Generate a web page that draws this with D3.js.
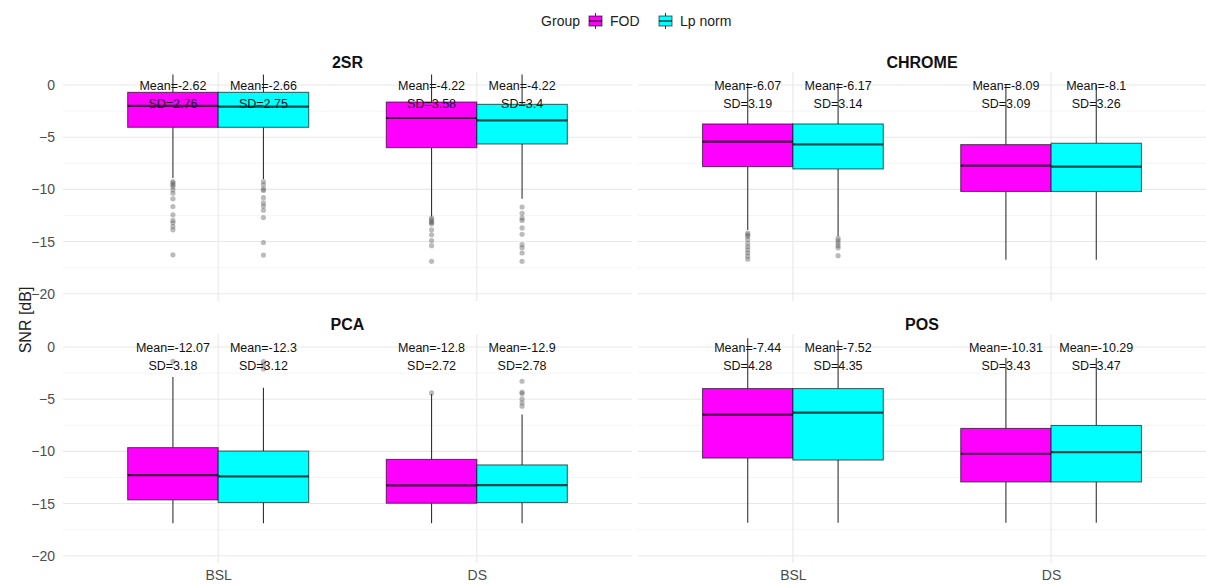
<!DOCTYPE html>
<html>
<head>
<meta charset="utf-8">
<script src="https://cdn.jsdelivr.net/npm/d3@7"></script>
<style>
  body { margin: 0; background: #fff; }
  text { font-family: "Liberation Sans", Arial, sans-serif; }
</style>
</head>
<body>
<div id="viz"></div>
<script>
// facets, categories and groups
var panels = ["2SR", "CHROME", "PCA", "POS"];
var conditions = ["BSL", "DS"];
var groups = ["FOD", "Lp norm"];
var groupColours = ["#ff00ff", "#00ffff"];
var yTicks = [0, -5, -10, -15, -20];
var yMinor = [-2.5, -7.5, -12.5, -17.5];

// box stats, order: BSL-FOD, BSL-Lp, DS-FOD, DS-Lp ; [lower whisker, q1, median, q3, upper whisker]
var box2SR    = [[-8.9, -4.05, -2.0, -0.7, 1.0], [-9.0, -4.05, -2.07, -0.7, 1.0], [-12.6, -6.0, -3.16, -1.63, 1.0], [-10.9, -5.65, -3.38, -1.85, 1.0]];
var boxCHROME = [[-13.9, -7.82, -5.42, -3.73, 0.2], [-14.5, -8.04, -5.68, -3.73, 0.2], [-16.75, -10.2, -7.72, -5.71, 0.1], [-16.75, -10.2, -7.82, -5.58, 0.0]];
var boxPCA    = [[-16.9, -14.65, -12.27, -9.64, -2.87], [-16.9, -14.9, -12.39, -9.97, -3.9], [-16.9, -14.97, -13.25, -10.77, -4.5], [-16.9, -14.9, -13.24, -11.3, -6.47]];
var boxPOS    = [[-16.85, -10.64, -6.47, -3.98, 0.85], [-16.85, -10.83, -6.28, -3.98, 0.63], [-16.85, -12.93, -10.23, -7.8, -1.05], [-16.85, -12.93, -10.07, -7.52, -1.05]];

// outliers, same order
var out2SR = [
  [-9.25, -9.41, -9.57, -9.73, -10.05, -10.37, -10.9, -11.64, -12.44, -12.98, -13.2, -13.56, -13.88, -16.27],
  [-9.25, -9.57, -9.98, -10.1, -10.8, -11.3, -11.6, -12.0, -12.7, -15.1, -16.3],
  [-12.76, -12.9, -13.08, -13.2, -13.3, -13.88, -14.35, -14.9, -15.4, -16.9],
  [-11.7, -12.3, -12.76, -12.98, -13.7, -14.3, -15.3, -15.6, -16.1, -16.9]
];
var outCHROME = [
  [-14.2, -14.35, -14.5, -14.8, -15.2, -15.5, -15.8, -16.1, -16.4, -16.7],
  [-14.7, -14.9, -15.15, -15.4, -15.6, -16.36],
  [],
  []
];
var outPCA = [[-1.37], [-1.4, -1.7, -2.1], [-4.4], [-3.28, -4.33, -4.46, -4.97, -5.35, -5.67]];
var outPOS = [[], [], [], []];

// annotation labels
var mean2SR = ["-2.62", "-2.66", "-4.22", "-4.22"],      sd2SR = ["2.76", "2.75", "3.58", "3.4"];
var meanCHROME = ["-6.07", "-6.17", "-8.09", "-8.1"],    sdCHROME = ["3.19", "3.14", "3.09", "3.26"];
var meanPCA = ["-12.07", "-12.3", "-12.8", "-12.9"],     sdPCA = ["3.18", "3.12", "2.72", "2.78"];
var meanPOS = ["-7.44", "-7.52", "-10.31", "-10.29"],    sdPOS = ["4.28", "4.35", "3.43", "3.47"];

var boxes = [box2SR, boxCHROME, boxPCA, boxPOS];
var outliers = [out2SR, outCHROME, outPCA, outPOS];
var means = [mean2SR, meanCHROME, meanPCA, meanPOS];
var sds = [sd2SR, sdCHROME, sdPCA, sdPOS];

var w = 1206, h = 585;
var svg = d3.select("#viz").append("svg").attr("width", w).attr("height", h);

var cols = [[63, 632], [638, 1206]];
var rows = [[72, 301], [334, 563]];
var yDomain = [-20.7, 1.25];

// legend
var legend = svg.append("g").attr("transform", "translate(0,21)");
legend.append("text").attr("x", 580).attr("y", 0).attr("dy", "0.35em")
  .attr("text-anchor", "end").style("font-size", "14px").style("fill", "#222").text("Group");
var legX = [588, 658];
groups.forEach(function(g, i){
  var k = legend.append("g").attr("transform", "translate(" + legX[i] + ",0)");
  k.append("line").attr("x1", 7.5).attr("x2", 7.5).attr("y1", -8).attr("y2", 8)
    .style("stroke", "#333").style("stroke-width", 1);
  k.append("rect").attr("x", 1).attr("y", -5).attr("width", 13).attr("height", 10)
    .style("fill", groupColours[i]).style("stroke", "#000").style("stroke-opacity", 0.6);
  k.append("line").attr("x1", 1).attr("x2", 14).attr("y1", 0).attr("y2", 0)
    .style("stroke", "#000").style("stroke-opacity", 0.7).style("stroke-width", 1.5);
  k.append("text").attr("x", 22).attr("y", 0).attr("dy", "0.35em")
    .style("font-size", "14px").style("fill", "#222").text(g);
});

// y axis title
svg.append("text").attr("transform", "translate(25,320) rotate(-90)")
  .attr("text-anchor", "middle").attr("dy", "0.35em")
  .style("font-size", "16px").style("fill", "#222").text("SNR [dB]");

panels.forEach(function(name, p){
  var col = cols[p % 2], row = rows[Math.floor(p / 2)];
  var x = d3.scalePoint().domain(conditions).range(col).padding(0.6);
  var y = d3.scaleLinear().domain(yDomain).range([row[1], row[0]]);
  var step = x.step();
  var boxW = step * 0.35;
  var g = svg.append("g").attr("class", "panel");

  // grid
  g.selectAll("line.minor").data(yMinor).enter().append("line")
    .attr("x1", col[0]).attr("x2", col[1])
    .attr("y1", function(d){ return y(d); }).attr("y2", function(d){ return y(d); })
    .style("stroke", "#f2f2f2").style("stroke-width", 0.8);
  g.selectAll("line.major").data(yTicks).enter().append("line")
    .attr("x1", col[0]).attr("x2", col[1])
    .attr("y1", function(d){ return y(d); }).attr("y2", function(d){ return y(d); })
    .style("stroke", "#e8e8e8").style("stroke-width", 1.1);
  g.selectAll("line.vgrid").data(conditions).enter().append("line")
    .attr("x1", function(d){ return x(d); }).attr("x2", function(d){ return x(d); })
    .attr("y1", row[0]).attr("y2", row[1])
    .style("stroke", "#e8e8e8").style("stroke-width", 1.1);

  // y tick labels on left column
  if (p % 2 === 0) {
    var ax = g.append("g").attr("transform", "translate(" + col[0] + ",0)")
      .call(d3.axisLeft(y).tickValues(yTicks).tickSize(0).tickPadding(8));
    ax.select(".domain").remove();
    ax.selectAll("text").style("font-size", "14px").style("fill", "#4d4d4d")
      .style("font-family", "Liberation Sans, Arial, sans-serif");
  }
  // x tick labels on bottom row
  if (p >= 2) {
    var axb = g.append("g").attr("transform", "translate(0," + row[1] + ")")
      .call(d3.axisBottom(x).tickSize(0).tickPadding(7));
    axb.select(".domain").remove();
    axb.selectAll("text").style("font-size", "14px").style("fill", "#4d4d4d")
      .style("font-family", "Liberation Sans, Arial, sans-serif");
  }

  // facet title
  g.append("text").attr("x", (col[0] + col[1]) / 2).attr("y", row[0] - 10)
    .attr("text-anchor", "middle").attr("dy", "0.35em")
    .style("font-size", "16px").style("font-weight", "bold").style("fill", "#111").text(name);

  var items = [];
  conditions.forEach(function(c, ci){
    groups.forEach(function(gr, gi){
      var k = ci * 2 + gi;
      items.push({cx: x(c) + (gi === 0 ? -1 : 1) * boxW / 2, s: boxes[p][k], out: outliers[p][k],
                  fill: groupColours[gi], mean: means[p][k], sd: sds[p][k]});
    });
  });

  items.forEach(function(d){
    var b = g.append("g");
    b.append("line").attr("x1", d.cx).attr("x2", d.cx).attr("y1", y(d.s[4])).attr("y2", y(d.s[3]))
      .style("stroke", "#333").style("stroke-width", 1.1);
    b.append("line").attr("x1", d.cx).attr("x2", d.cx).attr("y1", y(d.s[1])).attr("y2", y(d.s[0]))
      .style("stroke", "#333").style("stroke-width", 1.1);
    b.append("rect").attr("x", d.cx - boxW / 2).attr("y", y(d.s[3]))
      .attr("width", boxW).attr("height", y(d.s[1]) - y(d.s[3]))
      .style("fill", d.fill).style("stroke", "#000").style("stroke-opacity", 0.6).style("stroke-width", 1.1);
    b.append("line").attr("x1", d.cx - boxW / 2).attr("x2", d.cx + boxW / 2)
      .attr("y1", y(d.s[2])).attr("y2", y(d.s[2]))
      .style("stroke", "#000").style("stroke-opacity", 0.7).style("stroke-width", 2.2);
    b.selectAll("circle").data(d.out).enter().append("circle")
      .attr("cx", d.cx).attr("cy", function(v){ return y(v); }).attr("r", 2.6)
      .style("fill", "#555").style("fill-opacity", 0.4);
  });

  // mean / sd labels
  items.forEach(function(d){
    g.append("text").attr("x", d.cx).attr("y", y(0) + 1).attr("dy", "0.35em")
      .attr("text-anchor", "middle").style("font-size", "12.5px").style("fill", "#111")
      .text("Mean=" + d.mean);
    g.append("text").attr("x", d.cx).attr("y", y(0) + 19).attr("dy", "0.35em")
      .attr("text-anchor", "middle").style("font-size", "12.5px").style("fill", "#111")
      .text("SD=" + d.sd);
  });
});
</script>
</body>
</html>
